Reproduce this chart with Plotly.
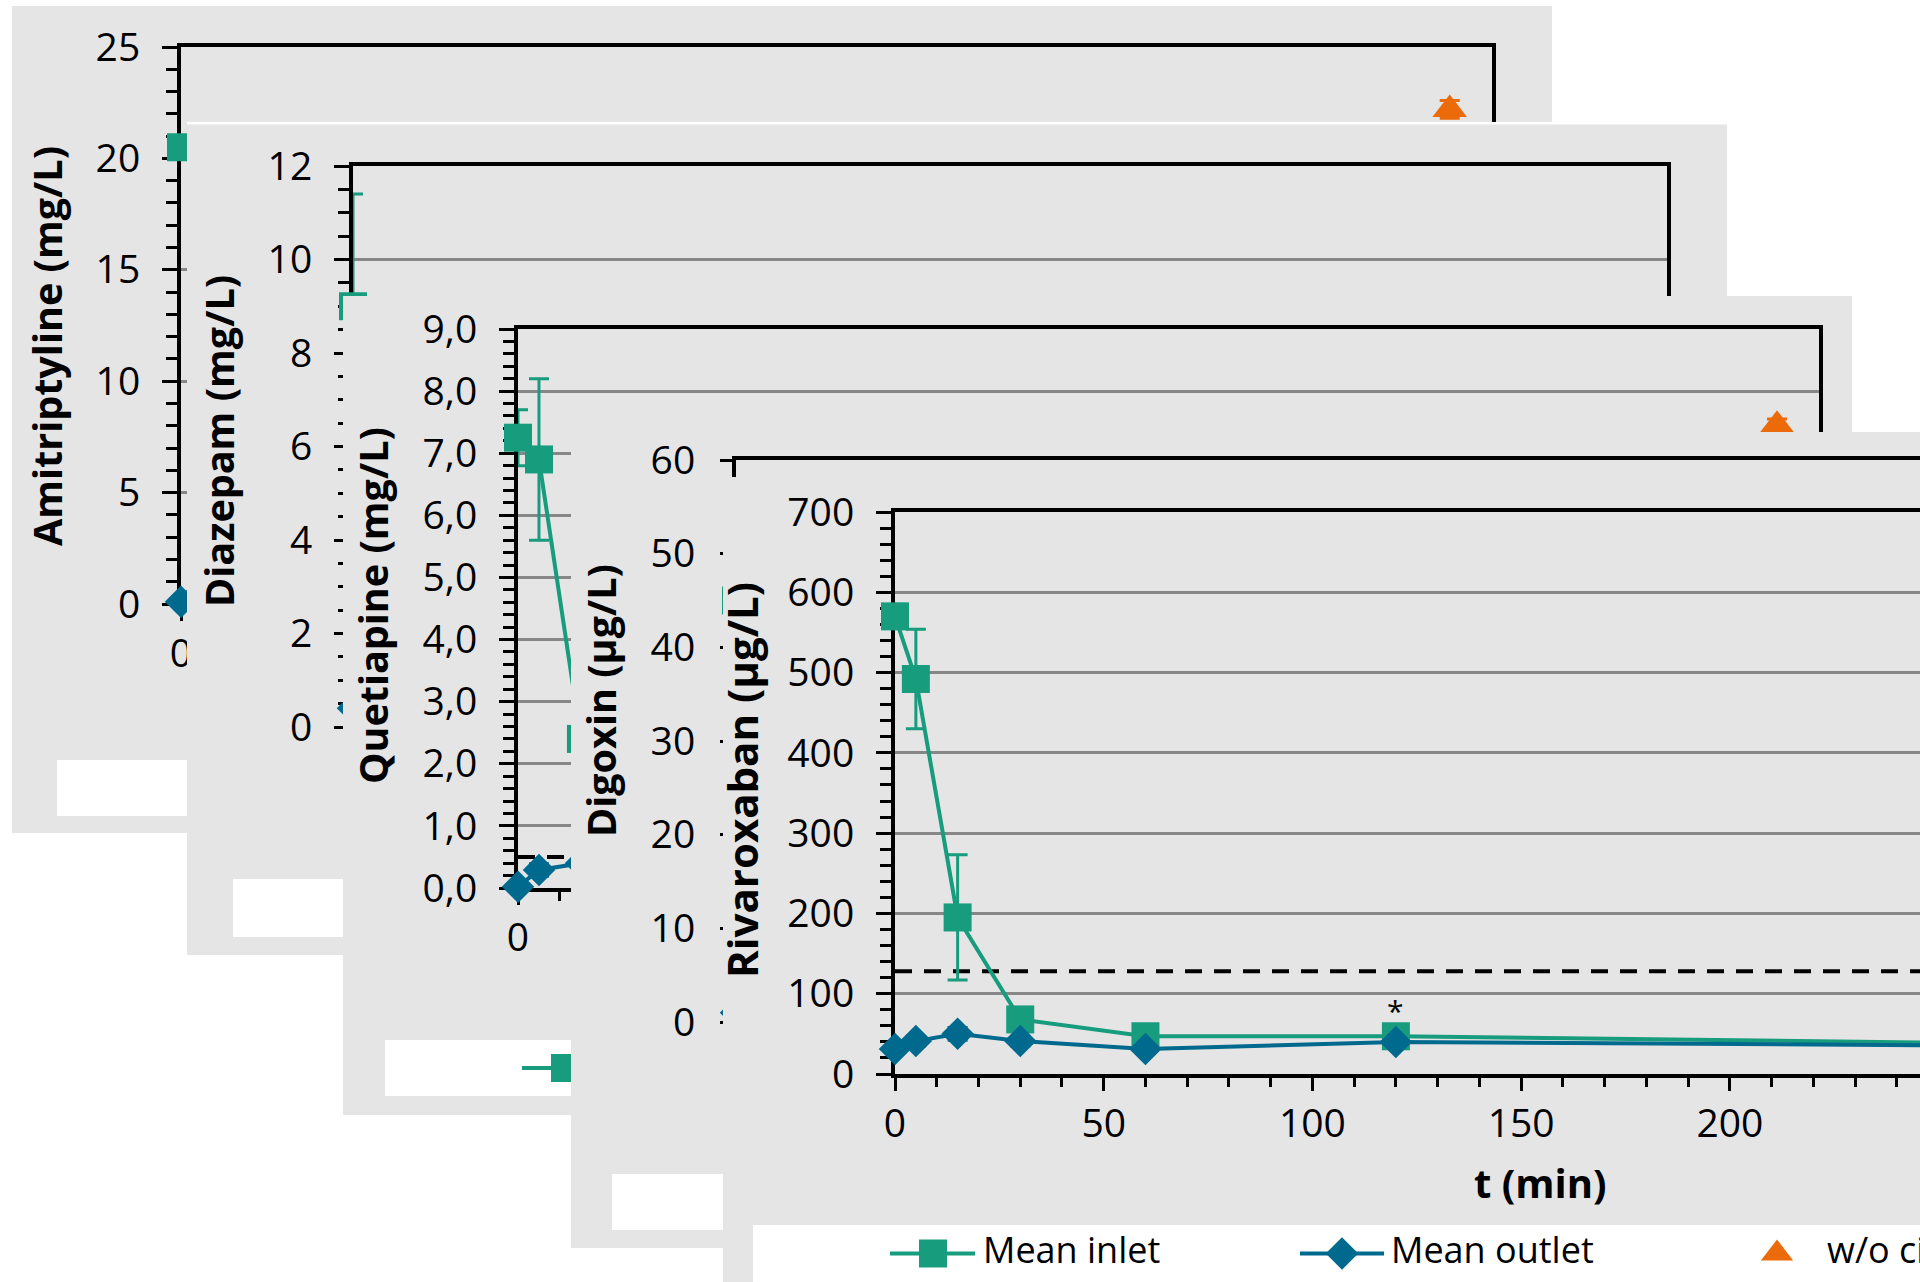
import plotly.graph_objects as go

W, H = 1920, 1282

# ---------------- data ----------------
time_min = [0, 5, 15, 30, 60, 120, 300]
wo_time = [300]

ami_inlet = [20.5, 19.0, 12.0, 6.0, 3.0, 2.0, 1.5]
ami_inlet_sd = [0.5, 1.2, 1.5, 0.8, 0.4, 0.3, 0.3]
ami_outlet = [0.1, 0.6, 1.0, 1.1, 1.0, 0.9, 0.8]
ami_outlet_sd = [0.1, 0.2, 0.3, 0.3, 0.2, 0.2, 0.2]
ami_wo = [22.2]
ami_wo_sd = [0.4]

dia_inlet = [9.0, 7.9, 4.2, 1.8, 1.0, 0.8, 0.6]
dia_inlet_sd = [2.4, 1.0, 0.9, 0.4, 0.2, 0.1, 0.1]
dia_outlet = [0.4, 0.5, 0.6, 0.6, 0.5, 0.5, 0.4]
dia_outlet_sd = [0.1, 0.1, 0.1, 0.1, 0.1, 0.1, 0.1]
dia_wo = [6.5]
dia_wo_sd = [0.3]

que_inlet = [7.25, 6.9, 2.4, 0.9, 0.6, 0.5, 0.45]
que_inlet_sd = [0.45, 1.3, 1.1, 0.3, 0.15, 0.1, 0.1]
que_outlet = [0.02, 0.29, 0.4, 0.45, 0.4, 0.4, 0.35]
que_outlet_sd = [0.02, 0.1, 0.1, 0.1, 0.1, 0.1, 0.1]
que_wo = [7.45]
que_wo_sd = [0.1]
que_limit = [0.5]

dig_inlet = [45.0, 40.0, 18.0, 7.0, 4.0, 3.0, 2.5]
dig_inlet_sd = [3.0, 5.0, 6.0, 2.0, 1.0, 1.0, 1.0]
dig_outlet = [1.0, 2.0, 3.0, 2.5, 2.0, 2.0, 1.5]
dig_outlet_sd = [0.5, 0.5, 0.5, 0.5, 0.5, 0.5, 0.5]
dig_wo = [48.0]
dig_wo_sd = [2.0]

riv_inlet = [570, 492, 195, 68, 47, 47, 36]
riv_inlet_sd = [15, 62, 78, 12, 6, 6, 5]
riv_outlet = [31, 41, 50, 41, 31, 40, 34]
riv_outlet_sd = [5, 6, 8, 6, 5, 5, 5]
riv_wo = [560]
riv_wo_sd = [20]
riv_limit = [128]
riv_signif_time = [120]

legend_labels = ["Mean inlet", "Mean outlet", "w/o circuit"]
x_title = "t (min)"
X_FULL_MAX = 310

# ---------------- styles ----------------
FONT = "Open Sans, Noto Sans, DejaVu Sans, sans-serif"
GREEN = "#179c7d"
BLUE = "#006a8e"
ORANGE = "#eb6a0a"
PANEL_GRAY = "#e5e5e5"
GRID_GRAY = "#878787"
TICK_SIZE = 39
LEG_SIZE = 36

# panel geometry in screen pixels (left, top, right, bottom)
panels = [
    dict(title="Amitriptyline (mg/L)", inlet=ami_inlet, inlet_sd=ami_inlet_sd,
         outlet=ami_outlet, outlet_sd=ami_outlet_sd, wo=ami_wo, wo_sd=ami_wo_sd,
         limit=None, ymax=25, dtick=5, minor=1, fmt=None,
         bg=(12, 6, 1552, 833), plot=(181, 47, 1492, 604), full_right=1492,
         legend=(57, 760, 900, 816), title_xy=(47, 346), title_size=39.5, top_white=False,
         front=False, xlabels=True, tl=(15, 11)),
    dict(title="Diazepam (mg/L)", inlet=dia_inlet, inlet_sd=dia_inlet_sd,
         outlet=dia_outlet, outlet_sd=dia_outlet_sd, wo=dia_wo, wo_sd=dia_wo_sd,
         limit=None, ymax=12, dtick=2, minor=0.5, fmt=None,
         bg=(187, 122, 1727, 955), plot=(353, 166, 1667, 727), full_right=1667,
         legend=(233, 879, 1000, 937), title_xy=(219, 441), title_size=39.5, top_white=True,
         front=False, xlabels=True, tl=(15, 11)),
    dict(title="Quetiapine (mg/L)", inlet=que_inlet, inlet_sd=que_inlet_sd,
         outlet=que_outlet, outlet_sd=que_outlet_sd, wo=que_wo, wo_sd=que_wo_sd,
         limit=que_limit, ymax=9, dtick=1, minor=0.2, fmt=".1f",
         bg=(343, 296, 1852, 1115), plot=(518, 329, 1819, 888), full_right=1819,
         legend=(385, 1040, 1200, 1096), title_xy=(373, 606), title_size=39.5, top_white=False,
         front=False, xlabels=True, tl=(15, 11)),
    dict(title="Digoxin (µg/L)", inlet=dig_inlet, inlet_sd=dig_inlet_sd,
         outlet=dig_outlet, outlet_sd=dig_outlet_sd, wo=dig_wo, wo_sd=dig_wo_sd,
         limit=None, ymax=60, dtick=10, minor=2, fmt=None,
         bg=(571, 432, 1920, 1248), plot=(736, 460, 1920, 1022), full_right=2046,
         legend=(612, 1174, 1400, 1230), title_xy=(601, 701), title_size=39.5, top_white=False,
         front=False, xlabels=False, tl=(12, 8)),
    dict(title="Rivaroxaban (µg/L)", inlet=riv_inlet, inlet_sd=riv_inlet_sd,
         outlet=riv_outlet, outlet_sd=riv_outlet_sd, wo=riv_wo, wo_sd=riv_wo_sd,
         limit=riv_limit, ymax=700, dtick=100, minor=20, fmt=None,
         bg=(723, 477, 1920, 1282), plot=(895, 512, 1920, 1074), full_right=2189,
         legend=(753, 1225, 1920, 1282), title_xy=(741, 780), title_size=42, top_white=False,
         front=True, xlabels=True, tl=(15, 11)),
]


def clampx(px):
    return min(max(px, 0), W)


def clampy(py):
    return min(max(py, 0), H)


def fx(px):
    return clampx(px) / W


def fy(py):
    return 1 - clampy(py) / H


def ref(n, letter):
    return letter if n == 1 else f"{letter}{n}"


def axkey(n, letter):
    return f"{letter}axis" if n == 1 else f"{letter}axis{n}"


fig = go.Figure()
layout_axes = {}
annotations = []

for i, p in enumerate(panels):
    nb, nd = 2 * i + 1, 2 * i + 2
    bx, by = ref(nb, "x"), ref(nb, "y")
    dx, dy = ref(nd, "x"), ref(nd, "y")

    # ---- background subplot (screen-pixel coordinates) ----
    x0, y0, x1, y1 = p["bg"]
    layout_axes[axkey(nb, "x")] = dict(domain=[fx(x0), fx(x1)], range=[clampx(x0), clampx(x1)],
                                       visible=False, fixedrange=True, anchor=by)
    layout_axes[axkey(nb, "y")] = dict(domain=[fy(y1), fy(y0)], range=[clampy(y1), clampy(y0)],
                                       visible=False, fixedrange=True, anchor=bx)
    fig.add_trace(go.Scatter(x=[x0, x1, x1, x0, x0], y=[y0, y0, y1, y1, y0], mode="lines",
                             fill="toself", fillcolor=PANEL_GRAY, line=dict(width=0),
                             hoverinfo="skip", xaxis=bx, yaxis=by))
    if p["top_white"]:
        fig.add_trace(go.Scatter(x=[x0, x1], y=[y0, y0], mode="lines",
                                 line=dict(color="white", width=5),
                                 hoverinfo="skip", xaxis=bx, yaxis=by))
    lx0, ly0, lx1, ly1 = p["legend"]
    fig.add_trace(go.Scatter(x=[lx0, lx1, lx1, lx0, lx0], y=[ly0, ly0, ly1, ly1, ly0], mode="lines",
                             fill="toself", fillcolor="white", line=dict(width=0),
                             hoverinfo="skip", xaxis=bx, yaxis=by))
    cy = (ly0 + ly1) / 2
    # legend glyphs (texts only where the legend is not covered by a later panel)
    for (a, b, m, col, sym, size, tx, lab) in [
        (137, 222, 180, GREEN, "square", 28, 230, legend_labels[0]),
        (547, 631, 589, BLUE, "diamond", 25, 638, legend_labels[1]),
        (None, None, 1024, ORANGE, "triangle-up", 28, 1074, legend_labels[2]),
    ]:
        if a is not None:
            fig.add_trace(go.Scatter(x=[lx0 + a, lx0 + b], y=[cy, cy], mode="lines",
                                     line=dict(color=col, width=4), hoverinfo="skip",
                                     xaxis=bx, yaxis=by))
        fig.add_trace(go.Scatter(x=[lx0 + m], y=[cy], mode="markers",
                                 marker=dict(symbol=sym, size=size, color=col),
                                 hoverinfo="skip", xaxis=bx, yaxis=by))
        if p["front"]:
            fig.add_trace(go.Scatter(x=[lx0 + tx], y=[cy], mode="text", text=[lab],
                                     textposition="middle right",
                                     textfont=dict(family=FONT, size=LEG_SIZE, color="black"),
                                     hoverinfo="skip", xaxis=bx, yaxis=by))

    # ---- data subplot ----
    px0, py0, px1, py1 = p["plot"]
    xmax = X_FULL_MAX * (px1 - px0) / (p["full_right"] - px0)
    major_len, minor_len = p["tl"]
    xax = dict(
        domain=[fx(px0), fx(px1)], range=[0, xmax], anchor=dy,
        tickmode="linear", tick0=0, dtick=50, ticks="outside", ticklen=13, tickwidth=3,
        tickcolor="black", showline=True, linecolor="black", linewidth=4, mirror=True,
        showgrid=False, zeroline=False, layer="below traces", fixedrange=True,
        tickfont=dict(family=FONT, size=TICK_SIZE, color="black"), ticklabelstandoff=-1,
        showticklabels=p["xlabels"],
        minor=dict(dtick=10, tick0=0, ticks="outside", ticklen=9, tickwidth=3,
                   tickcolor="black", showgrid=False),
    )
    if not p["front"]:
        # only the first time label of the covered panels is not hidden
        xax.update(tickmode="array", tickvals=[0])
    layout_axes[axkey(nd, "x")] = xax
    yax = dict(
        domain=[fy(py1), fy(py0)], range=[0, p["ymax"]], anchor=dx,
        tickmode="linear", tick0=0, dtick=p["dtick"], ticks="outside", ticklen=major_len,
        tickwidth=3, tickcolor="black", showline=True, linecolor="black", linewidth=4,
        mirror=True, showgrid=True, gridcolor=GRID_GRAY, gridwidth=3, zeroline=False,
        layer="below traces", fixedrange=True,
        tickfont=dict(family=FONT, size=TICK_SIZE, color="black"),
        ticklabelstandoff=14 + 15 - major_len,
        minor=dict(dtick=p["minor"], tick0=0, ticks="outside", ticklen=minor_len, tickwidth=3,
                   tickcolor="black", showgrid=False),
    )
    if p["fmt"]:
        yax["tickformat"] = p["fmt"]
    layout_axes[axkey(nd, "y")] = yax

    if p["limit"] is not None:
        fig.add_trace(go.Scatter(x=[0, X_FULL_MAX], y=p["limit"] * 2, mode="lines",
                                 line=dict(color="black", width=4, dash="17px,12px"),
                                 hoverinfo="skip", xaxis=dx, yaxis=dy))
    fig.add_trace(go.Scatter(
        x=time_min, y=p["inlet"], mode="lines+markers", name=legend_labels[0],
        line=dict(color=GREEN, width=4), marker=dict(symbol="square", size=28, color=GREEN),
        error_y=dict(type="data", array=p["inlet_sd"], visible=True, color=GREEN,
                     thickness=3, width=10),
        cliponaxis=False, xaxis=dx, yaxis=dy))
    fig.add_trace(go.Scatter(
        x=time_min, y=p["outlet"], mode="lines+markers", name=legend_labels[1],
        line=dict(color=BLUE, width=4), marker=dict(symbol="diamond", size=25, color=BLUE),
        error_y=dict(type="data", array=p["outlet_sd"], visible=True, color=BLUE,
                     thickness=3, width=10),
        cliponaxis=False, xaxis=dx, yaxis=dy))
    fig.add_trace(go.Scatter(
        x=wo_time, y=p["wo"], mode="markers", name=legend_labels[2],
        marker=dict(symbol="triangle-up", size=30, color=ORANGE),
        error_y=dict(type="data", array=p["wo_sd"], visible=True, color=ORANGE,
                     thickness=3, width=10),
        cliponaxis=False, xaxis=dx, yaxis=dy))

    tx, ty = p["title_xy"]
    annotations.append(dict(
        text=p["title"], x=fx(tx), y=fy(ty), xref="paper", yref="paper",
        xanchor="center", yanchor="middle", textangle=-90, showarrow=False,
        font=dict(family=FONT, size=p["title_size"], color="black", weight="bold")))

# significance marker and x-axis title of the front panel
last = len(panels) - 1
fx_ref, fy_ref = ref(2 * last + 2, "x"), ref(2 * last + 2, "y")
for t in riv_signif_time:
    annotations.append(dict(text="*", x=t, y=riv_inlet[time_min.index(t)], xref=fx_ref,
                            yref=fy_ref, showarrow=False, yshift=26,
                            font=dict(family=FONT, size=30, color="black")))
annotations.append(dict(text=x_title, x=fx(1540), y=fy(1182), xref="paper", yref="paper",
                        xanchor="center", yanchor="middle", showarrow=False,
                        font=dict(family=FONT, size=40, color="black", weight="bold")))

fig.update_layout(
    width=W, height=H, margin=dict(l=0, r=0, t=0, b=0, pad=0, autoexpand=False),
    paper_bgcolor="white", plot_bgcolor="rgba(0,0,0,0)",
    showlegend=False, separators=",.", annotations=annotations,
    font=dict(family=FONT, color="black"),
    **layout_axes,
)

# the figure fills the whole window: drop the page's default body margin
fig.write_html("out.html", config={"displayModeBar": False},
               post_script="document.body.style.margin='0px';"
                           "document.body.style.overflow='hidden';")
